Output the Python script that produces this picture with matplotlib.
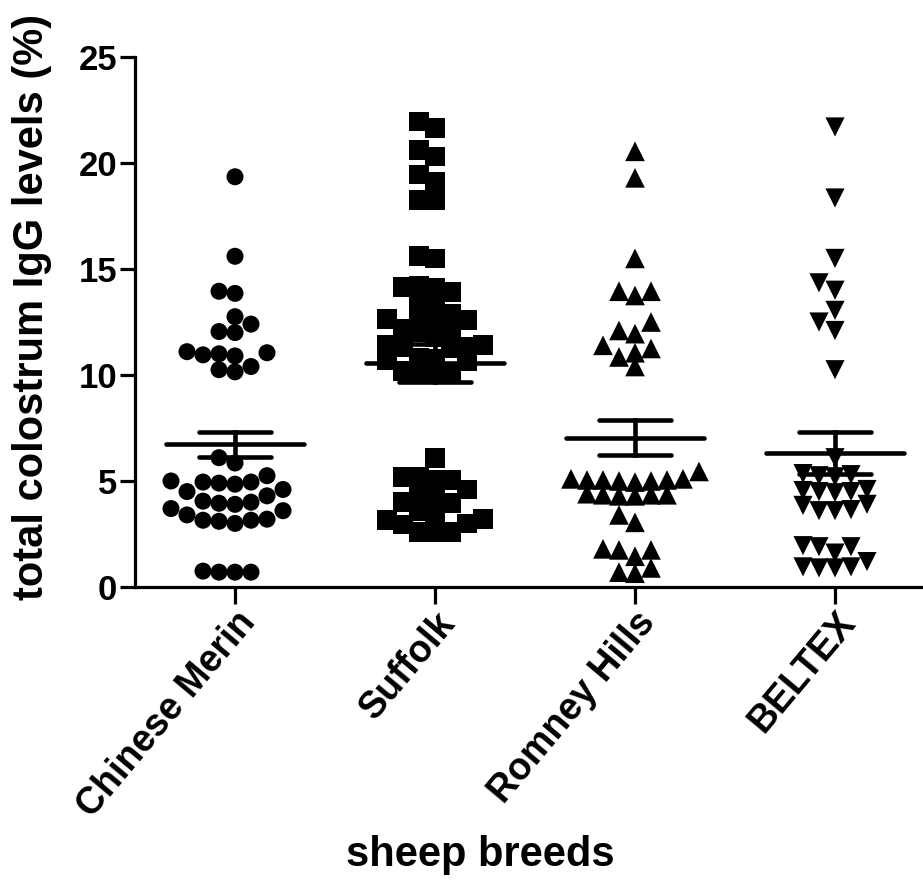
import matplotlib
matplotlib.use("Agg")
import matplotlib.pyplot as plt
import numpy as np

plt.rcParams['font.family'] = ['Liberation Sans', 'DejaVu Sans']
plt.rcParams['font.weight'] = 'bold'

breeds = ["Chinese Merin", "Suffolk", "Romney Hills", "BELTEX"]

chinese_merin = [19.35, 15.6, 13.95, 13.85, 12.75, 12.4, 12.05, 12.0,
                 11.1, 11.0, 10.95, 11.05, 10.9, 10.4, 10.25, 10.15,
                 6.1, 5.85, 5.25, 5.0, 4.95, 4.9, 4.95, 4.85, 4.6, 4.5,
                 4.3, 4.0, 3.95, 3.9, 4.05, 3.6, 3.7, 3.15, 3.0, 3.15,
                 3.2, 3.1, 3.4, 0.75, 0.7, 0.7, 0.7]
suffolk = [21.65, 21.95, 20.6, 20.3, 19.45, 19.1, 18.25, 18.25, 15.5, 15.6,
           14.2, 14.1, 14.15, 13.9, 13.5, 13.3, 12.7, 12.6, 12.55, 12.65,
           12.1, 12.2, 12.0, 11.4, 11.3, 11.35, 11.25, 11.4, 10.8, 10.7,
           10.65, 10.75, 10.2, 10.1, 10.15, 10.05, 11.8, 12.9,
           6.1, 5.2, 5.05, 5.2, 5.05, 4.35, 4.0, 3.95, 4.6, 4.5, 3.6, 3.5,
           3.15, 3.2, 3.0, 2.95, 2.6, 2.6, 2.6]
romney_hills = [20.55, 19.3, 15.5, 13.95, 13.75, 13.95, 12.5, 11.95, 12.1,
                11.25, 11.4, 10.85, 11.05, 10.4,
                5.45, 5.05, 5.1, 5.0, 5.05, 4.95, 5.1, 5.0, 5.05, 4.35, 4.3,
                4.4, 4.35, 4.3, 4.35, 3.4, 3.05, 1.75, 1.75, 1.8, 1.45, 0.9,
                0.7, 0.65]
beltex = [21.7, 18.35, 15.5, 14.35, 14.0, 13.05, 12.5, 12.1, 10.25,
          6.1, 5.3, 5.25, 5.2, 5.35, 4.5, 4.55, 4.45, 4.5, 4.6, 3.9, 3.85,
          3.6, 3.65, 3.6, 1.9, 1.95, 1.9, 1.6, 1.2, 0.95, 0.9, 0.95, 0.9]

groups = [chinese_merin, suffolk, romney_hills, beltex]
means = [6.74, 10.57, 7.05, 6.34]
sems = [0.59, 0.89, 0.82, 0.99]
markers = ['o', 's', '^', 'v']
msizes = [150, 200, 200, 190]
min_gap = [15, 14, 12, 13]

W, H, DPI = 923, 891, 100
fig = plt.figure(figsize=(W / DPI, H / DPI), dpi=DPI)
ax = fig.add_axes([135 / W, 1 - 587 / H, 788 / W, 530 / H])
ax.set_xlim(0.5, 4.44)
ax.set_ylim(0, 25)

# pixels per data unit, used for the swarm layout
px_x = 788 / 3.94
px_y = 530 / 25


def swarm(vals, step=16, min_d=16):
    vals = np.asarray(vals)
    placed = []
    off = np.zeros(len(vals))
    cands = [0] + [s * j for j in range(1, 12) for s in (-1, 1)]
    for i in np.argsort(vals):
        y = vals[i] * px_y
        for c in cands:
            x = c * step
            if all((x - a) ** 2 + (y - b) ** 2 >= min_d ** 2 for a, b in placed):
                break
        placed.append((x, y))
        off[i] = x / px_x
    return off


for k, vals in enumerate(groups):
    pos = k + 1
    ax.scatter(pos + swarm(vals, min_d=min_gap[k]), vals, marker=markers[k],
               s=msizes[k], color='black', edgecolors='none', zorder=3,
               clip_on=False)
    m, e = means[k], sems[k]
    ax.plot([pos - 0.345, pos + 0.345], [m, m], color='black', lw=3.3,
            solid_capstyle='round', zorder=4)
    ax.plot([pos, pos], [m - e, m + e], color='black', lw=3.3, zorder=4)
    for yy in (m - e, m + e):
        ax.plot([pos - 0.18, pos + 0.18], [yy, yy], color='black', lw=3.3,
                solid_capstyle='round', zorder=4)

for s in ['top', 'right']:
    ax.spines[s].set_visible(False)
for s in ['left', 'bottom']:
    ax.spines[s].set_linewidth(2.3)

ax.set_yticks([0, 5, 10, 15, 20, 25])
ax.tick_params(axis='y', length=11, width=2.3, labelsize=25, pad=2)
ax.set_xticks([1, 2, 3, 4])
ax.set_xticklabels(breeds, rotation=50, ha='right', va='top',
                   rotation_mode='anchor', fontsize=27)
ax.tick_params(axis='x', length=12, width=2.3, pad=1)

ax.set_ylabel("total colostrum IgG levels (%)", fontsize=30,
              fontweight='bold')
ax.yaxis.set_label_coords(-0.105, 0.528)
fig.text(480 / W, 1 - 855 / H, "sheep breeds", ha='center', va='center',
         fontsize=30, fontweight='bold')

fig.savefig("out.png", dpi=DPI)
